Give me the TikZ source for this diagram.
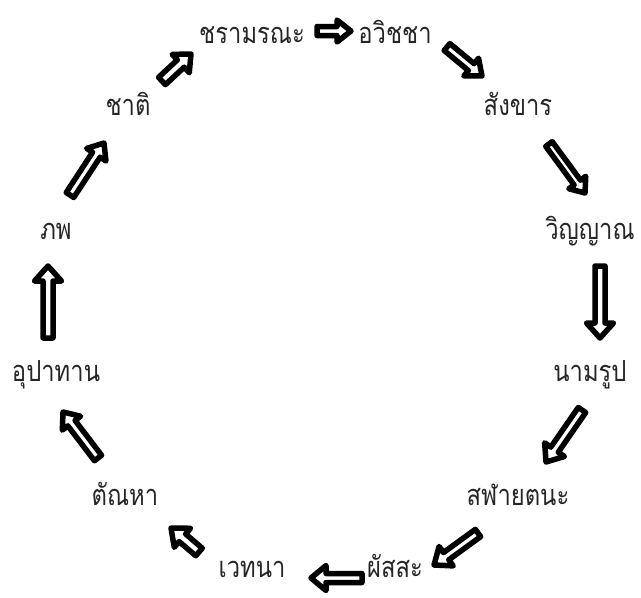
\documentclass[tikz,border=0pt]{standalone}
\usepackage{fontspec}
\newfontfamily\thaifont[Script=Thai, FakeStretch=0.82]{Loma}
\usetikzlibrary{calc}
\tikzset{
  lbl/.style={font=\thaifont\fontsize{29}{34}\selectfont, inner sep=0pt, anchor=base, text=black!85},
  arrowline/.style={draw=black, fill=white, line width=5.5pt, line join=round, line cap=round},
}
% tail, tip, shaft half width, head half width, head length
\newcommand\bArrow[5]{%
  \draw[arrowline] let \p1=(#1), \p2=(#2),
     \n1={atan2(\y2-\y1,\x2-\x1)}, \n2={veclen(\x2-\x1,\y2-\y1)} in
     [shift={(\p1)}, rotate=\n1]
     (0,-#3) -- (\n2-#5,-#3) -- (\n2-#5,-#4) -- (\n2,0) -- (\n2-#5,#4) -- (\n2-#5,#3) -- (0,#3) -- cycle;
}
\begin{document}
\begin{tikzpicture}[x=1pt,y=-1pt]
\useasboundingbox[fill=white] (0,0) rectangle (641,598);
% labels (anchor base, y = visual centre + 9)
\node[lbl] (jara)  at (252,43)  {ชรามรณะ};
\node[lbl] (awit)  at (395,43)  {อวิชชา};
\node[lbl] (sang)  at (518,115) {สังขาร};
\node[lbl] (win)   at (590,239) {วิญญาณ};
\node[lbl] (nam)   at (590,381) {นามรูป};
\node[lbl] (sala)  at (518,505) {สฬายตนะ};
\node[lbl] (phat)  at (395,577) {ผัสสะ};
\node[lbl] (wed)   at (252,577) {เวทนา};
\node[lbl] (tan)   at (125,505) {ตัณหา};
\node[lbl] (upa)   at (56,381)  {อุปาทาน};
\node[lbl] (phop)  at (56,239)  {ภพ};
\node[lbl] (chat)  at (128,115) {ชาติ};
% arrow ends
\coordinate (a1t) at (317,31);  \coordinate (a1h) at (351,31);
\coordinate (a2t) at (447,47);  \coordinate (a2h) at (482,76);
\coordinate (a3t) at (549,144); \coordinate (a3h) at (585,193);
\coordinate (a4t) at (600,266); \coordinate (a4h) at (600,338);
\coordinate (a5t) at (582,410); \coordinate (a5h) at (546,462);
\coordinate (a6t) at (478,533); \coordinate (a6h) at (434,565);
\coordinate (a7t) at (362,578); \coordinate (a7h) at (311,578);
\coordinate (a8t) at (199,552); \coordinate (a8h) at (171,528);
\coordinate (a9t) at (98,458);  \coordinate (a9h) at (63,412);
\coordinate (a10t) at (48,338); \coordinate (a10h) at (48,266);
\coordinate (a11t) at (70,195); \coordinate (a11h) at (104,143);
\coordinate (a12t) at (162,81); \coordinate (a12h) at (191,54);
\bArrow{a1t}{a1h}{4.5}{11}{14}
\bArrow{a2t}{a2h}{4.5}{11.5}{14}
\bArrow{a3t}{a3h}{4}{10.5}{13}
\bArrow{a4t}{a4h}{5}{13.5}{15}
\bArrow{a5t}{a5h}{4.5}{12}{15}
\bArrow{a6t}{a6h}{4.5}{12}{15}
\bArrow{a7t}{a7h}{4.5}{12.5}{15}
\bArrow{a8t}{a8h}{5}{12.5}{15}
\bArrow{a9t}{a9h}{4.5}{11.5}{14}
\bArrow{a10t}{a10h}{5}{13.5}{15}
\bArrow{a11t}{a11h}{4.5}{11.5}{14}
\bArrow{a12t}{a12h}{5}{12.5}{14}
\end{tikzpicture}
\end{document}
